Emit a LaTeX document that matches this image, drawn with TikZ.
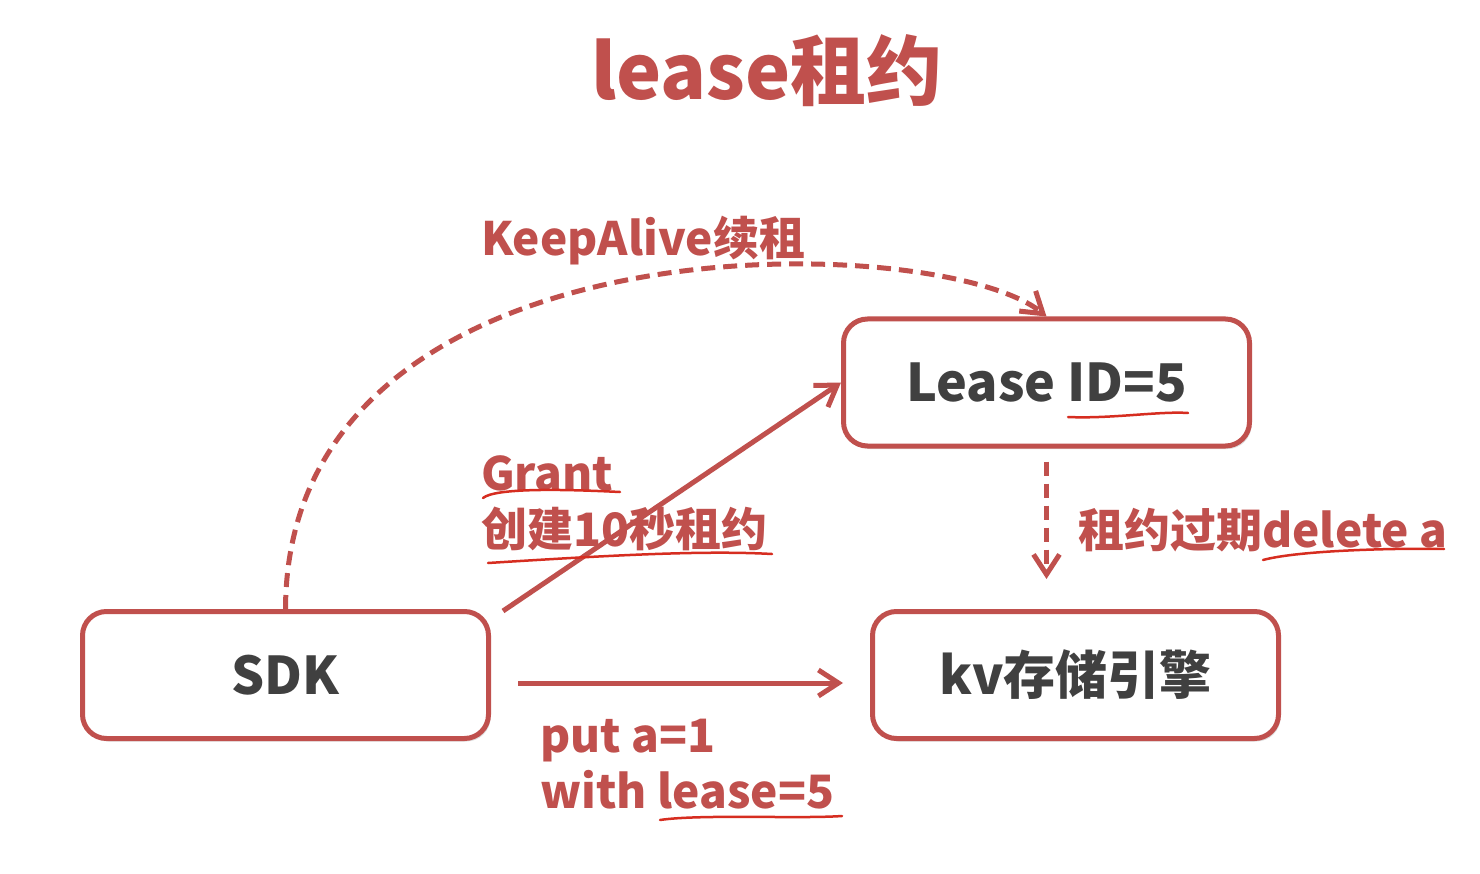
\documentclass[tikz,border=0pt]{standalone}
\usepackage{fontspec}
\setmainfont{Noto Sans CJK SC}
\usetikzlibrary{arrows.meta,shadows}
\definecolor{leasered}{RGB}{192,80,77}
\definecolor{penred}{RGB}{214,45,32}
\definecolor{boxtext}{RGB}{64,64,64}

\tikzset{
  box/.style={draw=leasered, line width=5pt, rounded corners=24pt, fill=white,
    minimum width=406pt, minimum height=127pt, text=boxtext,
    font=\fontsize{52}{60}\selectfont\bfseries,
    drop shadow={shadow xshift=2pt, shadow yshift=-3pt, opacity=.25, fill=gray}},
  tag/.style={leasered, inner sep=0pt, align=left,
    font=\fontsize{46}{56}\selectfont\bfseries},
  flow/.style={leasered, line width=5pt, -{Straight Barb[length=20pt,width=26pt]}},
  dashflow/.style={flow, dash pattern=on 14pt off 8pt},
  pen/.style={penred, line width=2.5pt, line cap=round},
}

\begin{document}
\begin{tikzpicture}[x=1pt,y=-1pt]
  \useasboundingbox (0,0) rectangle (1480,874);

  % titre
  \node[anchor=base, leasered, font=\fontsize{76}{80}\selectfont\bfseries] (title) at (767,100) {lease租约};

  % les trois boites
  \node[box] (sdk) at (285.5,675) {SDK};
  \node[box] (lease) at (1046.5,382.5) {Lease ID=5};
  \node[box] (kv) at (1075.5,675) {kv存储引擎};

  % renouvellement
  \draw[dashflow] (sdk.north) .. controls (287,210) and (940,230) .. (lease.north);
  \node[tag, anchor=base west] (keep) at (481,256) {KeepAlive续租};

  % creation du bail
  \draw[flow] ([shift={(12,2)}]sdk.north east) -- (lease.west);
  \node[tag, anchor=base west] (grant) at (481,546) {Grant\\创建10秒租约};

  % ecriture
  \draw[flow, shorten <=27pt, shorten >=27pt] ([yshift=-8pt]sdk.east) -- ([yshift=-8pt]kv.west);
  \node[tag, anchor=base west] (put) at (540,808) {put a=1\\with lease=5};

  % expiration
  \draw[dashflow, shorten <=13pt, shorten >=30pt] (lease.south) -- (lease.south |- kv.north);
  \node[tag, anchor=base west] (expire) at (1078,547) {租约过期delete a};

  % traits a la main
  \draw[pen] (1068,417) .. controls (1110,419) and (1160,411) .. (1188,413);
  \draw[pen] (483,498) .. controls (495,488) and (560,489) .. (620,492);
  \draw[pen] (488,563) .. controls (600,556) and (700,550) .. (772,554);
  \draw[pen] (1263,560) .. controls (1300,550) and (1400,548) .. (1444,549);
  \draw[pen] (660,820) .. controls (700,814) and (800,819) .. (842,816);
\end{tikzpicture}
\end{document}
